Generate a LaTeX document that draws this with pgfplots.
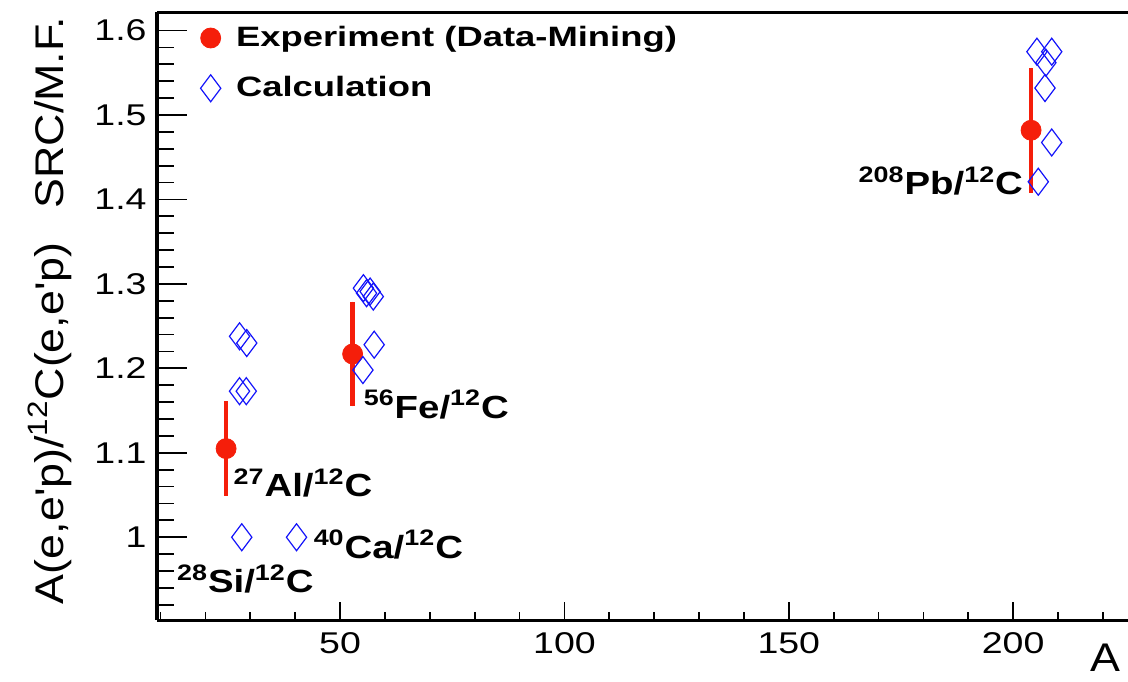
\documentclass[border=0pt]{standalone}
\usepackage{fontspec}
\setmainfont{Liberation Sans}
\newfontfamily\tickf{Liberation Sans}[FakeStretch=1.25]
\newfontfamily\labf{Liberation Sans}[FakeStretch=1.12]
\newfontfamily\annf{Liberation Sans}[FakeStretch=1.2]
\newfontfamily\legf{Liberation Sans}[FakeStretch=1.3]
\usepackage{pgfplots}
\pgfplotsset{compat=1.18}
\definecolor{rootred}{RGB}{245,30,10}
\definecolor{rootblue}{RGB}{20,20,250}
\begin{document}
\begin{tikzpicture}
\path[use as bounding box] (-78.5pt,-30.5pt) rectangle (485.5pt,310pt);
% axis 1: frame and x ticks
\begin{axis}[
  at={(0,0)}, anchor=south west, scale only axis,
  width=485.5pt, height=304pt,
  xmin=9.2, xmax=225.6, ymin=0.902, ymax=1.622,
  axis x line*=box, axis y line*=left,
  axis line style={-, line width=1.5pt, black},
  xtick={50,100,150,200},
  minor xtick={10,20,30,40,60,70,80,90,110,120,130,140,160,170,180,190,210,220},
  xtick pos=left, tick align=inside,
  major tick length=9pt, minor tick length=4pt,
  every tick/.style={black, line width=0.9pt},
  ytick=\empty,
  /pgf/number format/assume math mode=true,
  xticklabel style={font=\tickf\fontsize{15}{18}\selectfont, anchor=north, inner sep=0pt, yshift=-6pt},
  xlabel={A},
  xlabel style={at={(axis description cs:0.993,-0.085)}, anchor=base east, inner sep=0pt, font=\labf\fontsize{20}{24}\selectfont},
]
\end{axis}
% axis 2: y ticks and data
\begin{axis}[
  at={(0,0)}, anchor=south west, scale only axis,
  width=485.5pt, height=304pt,
  xmin=9.2, xmax=225.6, ymin=0.902, ymax=1.622,
  axis x line=none, axis y line*=left,
  axis line style={-, line width=1.5pt, black},
  ytick={1,1.1,1.2,1.3,1.4,1.5,1.6},
  minor ytick={0.92,0.94,0.96,0.98,1.02,1.04,1.06,1.08,1.12,1.14,1.16,1.18,1.22,1.24,1.26,1.28,1.32,1.34,1.36,1.38,1.42,1.44,1.46,1.48,1.52,1.54,1.56,1.58},
  ytick pos=left, tick align=inside,
  major tick length=15pt, minor tick length=8.5pt,
  every tick/.style={black, line width=0.9pt},
  xtick=\empty,
  /pgf/number format/assume math mode=true,
  yticklabel style={font=\tickf\fontsize{15}{18}\selectfont, anchor=east, inner sep=0pt, xshift=-5pt},
  ylabel={A(e,e'p)/\textsuperscript{12}C(e,e'p)\hspace{17pt}SRC/M.F.},
  ylabel style={at={(axis description cs:-0.0968,0.993)}, anchor=base east, inner sep=0pt, font=\labf\fontsize{20}{24}\selectfont},
  legend style={at={(axis description cs:0.038,0.982)}, anchor=north west, draw=none, fill=none,
    font=\legf\bfseries\fontsize{14}{16}\selectfont, row sep=10.5pt, inner sep=0pt,
    nodes={inner sep=1.5pt}},
  legend image code/.code={\draw[#1] plot coordinates {(0pt,0pt)}; \path (-8pt,0pt) (11pt,0pt);},
  legend cell align=left,
  clip=false,
]
\addplot[only marks, mark=*, mark size=5pt, color=rootred, fill=rootred,
  error bars/.cd, y dir=both, y explicit, error mark=none,
  error bar style={line width=2.4pt, rootred}]
  table[x=x, y=y, y error=e] {
x y e
24.6 1.105 0.056
52.8 1.217 0.062
204.0 1.482 0.074
};
\addlegendentry{Experiment (Data-Mining)}
\addplot[only marks, mark=diamond, mark size=6.75pt, color=rootblue, mark options={line width=0.6pt}]
  table {
x y
27.6 1.238
29.2 1.230
27.6 1.173
29.1 1.173
28.1 1.000
40.3 1.000
55.2 1.295
55.9 1.289
56.7 1.291
57.4 1.285
57.6 1.228
55.1 1.198
205.3 1.575
208.6 1.575
207.3 1.562
207.1 1.532
208.6 1.4675
205.6 1.421
};
\addlegendentry{Calculation}
\begin{scope}[every node/.style={anchor=base west, inner sep=0pt, font=\annf\bfseries\fontsize{16}{19}\selectfont}]
\node at (axis cs:26.2,1.048) {\textsuperscript{27}Al/\textsuperscript{12}C};
\node at (axis cs:55.2,1.141) {\textsuperscript{56}Fe/\textsuperscript{12}C};
\node at (axis cs:44.05,0.975) {\textsuperscript{40}Ca/\textsuperscript{12}C};
\node at (axis cs:13.6,0.934) {\textsuperscript{28}Si/\textsuperscript{12}C};
\node at (axis cs:165.5,1.4056) {\textsuperscript{208}Pb/\textsuperscript{12}C};
\end{scope}
\end{axis}
\end{tikzpicture}
\end{document}
